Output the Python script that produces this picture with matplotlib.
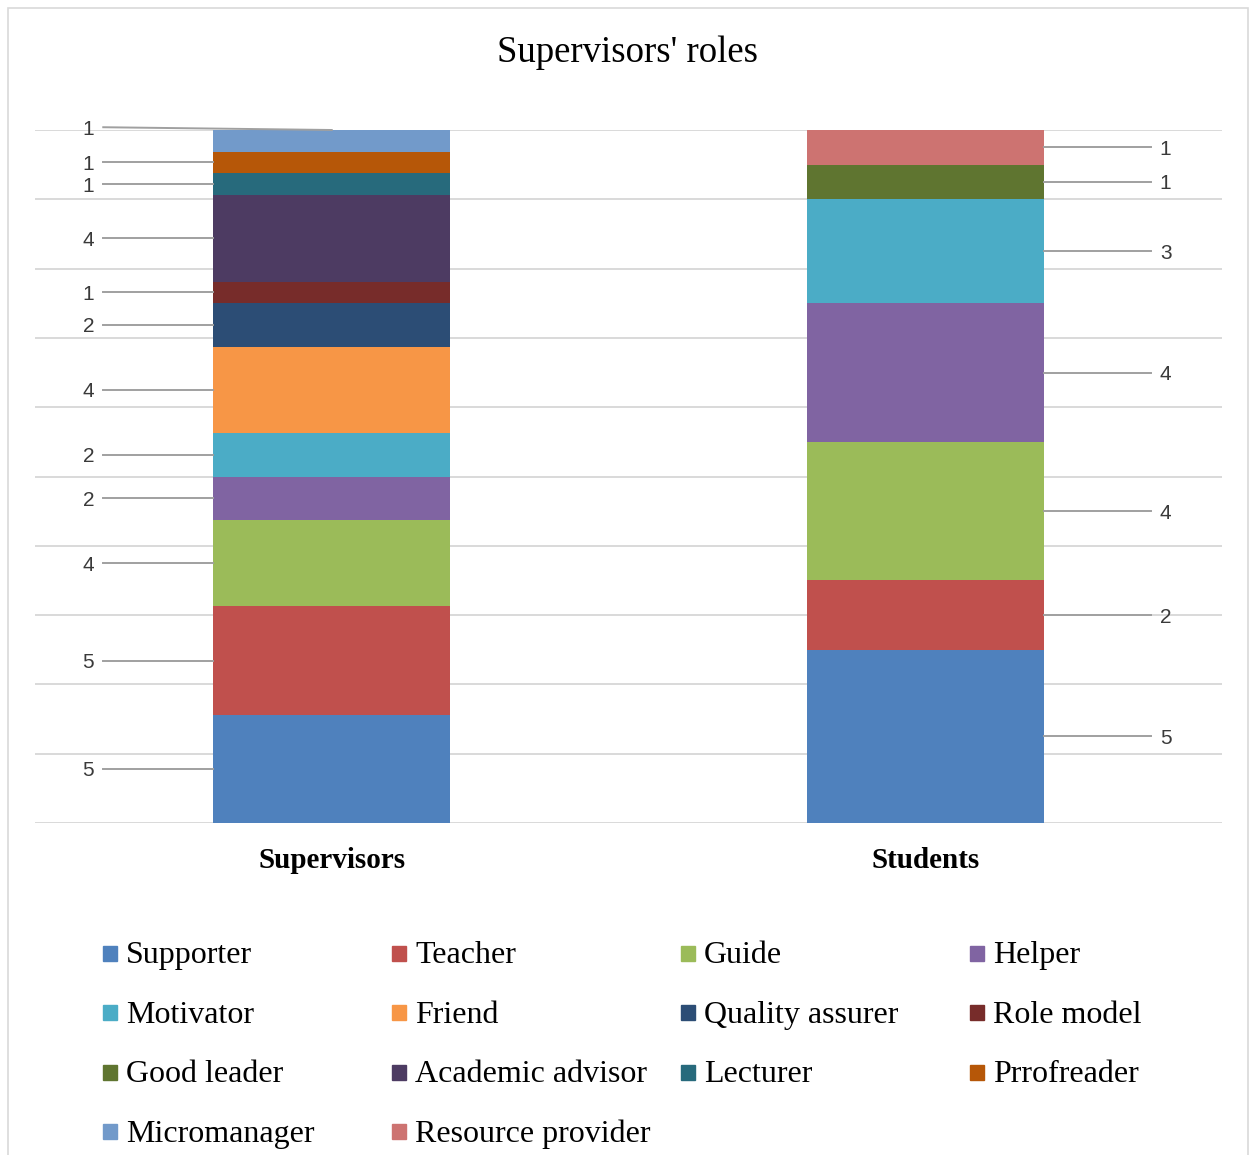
import matplotlib
matplotlib.use("Agg")
from matplotlib import pyplot as plt
from matplotlib.patches import Rectangle
import numpy as np

# data
groups = ["Supervisors", "Students"]
roles = ["Supporter", "Teacher", "Guide", "Helper", "Motivator", "Friend",
         "Quality assurer", "Role model", "Good leader", "Academic advisor",
         "Lecturer", "Prrofreader", "Micromanager", "Resource provider"]
supervisors = [5, 5, 4, 2, 2, 4, 2, 1, 0, 4, 1, 1, 1, 0]
students = [5, 2, 4, 4, 3, 0, 0, 0, 1, 0, 0, 0, 0, 1]
colors = ["#4F81BD", "#C0504D", "#9BBB59", "#8064A2", "#4BACC6", "#F79646",
          "#2C4D75", "#772C2A", "#5F7530", "#4D3B62", "#276A7C", "#B65708",
          "#729ACA", "#CD7371"]

W, H = 1255, 1155
fig = plt.figure(figsize=(W / 100, H / 100), dpi=100)
ax = fig.add_axes([35 / W, 1 - 823 / H, (1222 - 35) / W, (823 - 130) / H])

serif = "Liberation Serif"
sans = "Liberation Sans"
gray_line = "#a0a0a0"
label_col = "#3a3a3a"

vals = np.array([supervisors, students], dtype=float)
pct = vals / vals.sum(axis=1, keepdims=True) * 100
x = np.arange(len(groups))
bottom = np.zeros(len(groups))

for i, role in enumerate(roles):
    ax.bar(x, pct[:, i], 0.4, bottom=bottom, color=colors[i], zorder=3,
           edgecolor="none")
    for g in range(len(groups)):
        if vals[g, i] == 0:
            continue
        yc = bottom[g] + pct[g, i] / 2
        txt = str(int(vals[g, i]))
        xg = x[g]
        if g == 0:
            if bottom[g] + pct[g, i] >= 99.99:
                # top label pushed above the bar
                ax.plot([xg - 0.385, xg], [100.4, 100.0], color=gray_line,
                        lw=1.4, zorder=4, clip_on=False)
                ax.text(xg - 0.41, 100.4, txt, ha="center",
                        va="center_baseline", fontsize=15, family=sans,
                        color=label_col)
            else:
                ax.plot([xg - 0.385, xg - 0.2], [yc, yc], color=gray_line,
                        lw=1.4, zorder=4)
                ax.text(xg - 0.41, yc, txt, ha="center", va="center_baseline",
                        fontsize=15, family=sans, color=label_col)
        else:
            ax.plot([xg + 0.2, xg + 0.381], [yc, yc], color=gray_line, lw=1.4,
                    zorder=4)
            ax.text(xg + 0.405, yc, txt, ha="center", va="center_baseline",
                    fontsize=15, family=sans, color=label_col)
    bottom += pct[:, i]

ax.set_xlim(-0.5, 1.5)
ax.set_ylim(0, 100)
ax.set_yticks(np.arange(0, 101, 10))
ax.yaxis.grid(True, color="#d9d9d9", lw=1.4, zorder=0)
ax.tick_params(axis="y", length=0, labelleft=False)
ax.tick_params(axis="x", length=0, pad=17)
ax.set_xticks(x)
ax.set_xticklabels(groups, family=serif, fontsize=21, fontweight="bold")
for s in ax.spines.values():
    s.set_visible(False)

fig.text(0.5, 1 - 53 / H, "Supervisors' roles", ha="center", va="center",
         family=serif, fontsize=26.5)

# legend laid out in Excel fashion (row-major, fixed columns)
for i, role in enumerate(roles):
    r, c = divmod(i, 4)
    lx = 103 + c * 289
    ly = 953 + r * 59.6
    fig.patches.append(Rectangle((lx / W, 1 - (ly + 7.5) / H), 14 / W, 15 / H,
                                 transform=fig.transFigure, color=colors[i]))
    fig.text((lx + 23) / W, 1 - (ly + 10) / H, role, ha="left", va="baseline",
             family=serif, fontsize=23)

# chart border
fig.patches.append(Rectangle((8 / W, -0.01), (1248 - 8) / W, 1 - 8 / H + 0.01,
                             transform=fig.transFigure, fill=False,
                             edgecolor="#d9d9d9", lw=1.2))

fig.savefig("out.png", dpi=100)
